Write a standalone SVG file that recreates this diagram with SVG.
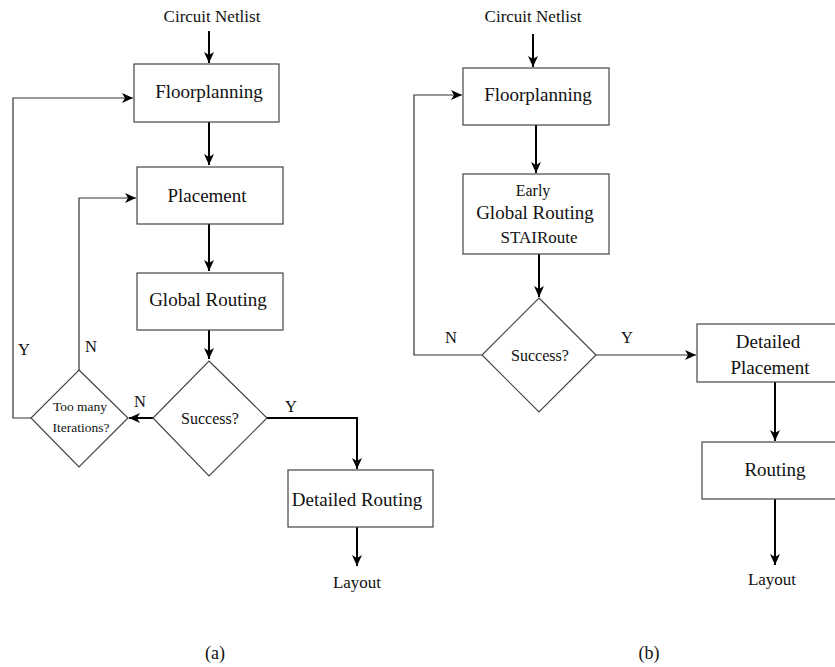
<svg xmlns="http://www.w3.org/2000/svg" width="835" height="667" viewBox="0 0 835 667">
<defs>
<marker id="ah" markerUnits="userSpaceOnUse" markerWidth="12" markerHeight="10" refX="11" refY="5" orient="auto">
<path d="M0,0 L11,5 L0,10 L3,5 z" fill="#000"/>
</marker>
</defs>
<style>
text{font-family:"Liberation Serif","Times New Roman",serif;fill:#111;text-anchor:middle}
.box{fill:#fff;stroke:#444;stroke-width:1.2}
.big{font-size:19px}
.mid{font-size:16px}
.sm{font-size:17px}
.lab{font-size:16.5px}
.xs{font-size:13.5px}
.cap{font-size:18px}
.thick{fill:none;stroke:#000;stroke-width:2}
.thin{fill:none;stroke:#333;stroke-width:1.2}
</style>
<rect width="835" height="667" fill="#fff"/>
<g id="connectors">
<line class="thick" x1="209" y1="31" x2="209" y2="63" marker-end="url(#ah)"/>
<line class="thick" x1="209" y1="122" x2="209" y2="165" marker-end="url(#ah)"/>
<line class="thick" x1="209" y1="224" x2="209" y2="271" marker-end="url(#ah)"/>
<line class="thick" x1="209" y1="330" x2="209" y2="359" marker-end="url(#ah)"/>
<line class="thick" x1="153" y1="418" x2="129" y2="418" marker-end="url(#ah)"/>
<polyline class="thin" points="31,418 13,418 13,98 133,98" marker-end="url(#ah)"/>
<polyline class="thin" points="79,370 79,198 136,198" marker-end="url(#ah)"/>
<polyline class="thick" points="267,418 357,418 357,469" marker-end="url(#ah)"/>
<line class="thick" x1="357" y1="527" x2="357" y2="566" marker-end="url(#ah)"/>
<line class="thick" x1="533" y1="34" x2="533" y2="67" marker-end="url(#ah)"/>
<line class="thick" x1="536" y1="125" x2="536" y2="173" marker-end="url(#ah)"/>
<line class="thick" x1="539" y1="254" x2="539" y2="297" marker-end="url(#ah)"/>
<polyline class="thin" points="482,355 414,355 414,95 462,95" marker-end="url(#ah)"/>
<line class="thin" x1="596" y1="355" x2="696" y2="355" marker-end="url(#ah)"/>
<line class="thick" x1="775" y1="382" x2="775" y2="441" marker-end="url(#ah)"/>
<line class="thick" x1="775" y1="499" x2="775" y2="565" marker-end="url(#ah)"/>
</g>
<g id="labels">
<text class="sm" x="212" y="22">Circuit Netlist</text>
<text class="lab" x="140" y="407">N</text>
<text class="lab" x="24" y="355">Y</text>
<text class="lab" x="91" y="352">N</text>
<text class="lab" x="291" y="412">Y</text>
<text class="sm" x="357" y="588">Layout</text>
<text class="cap" x="215" y="659">(a)</text>
<text class="sm" x="533" y="22">Circuit Netlist</text>
<text class="lab" x="451" y="343">N</text>
<text class="lab" x="627" y="343">Y</text>
<text class="sm" x="772" y="585">Layout</text>
<text class="cap" x="649" y="659">(b)</text>
</g>
<g id="a-floorplanning"><rect class="box" x="134" y="64" width="145" height="58"/><text class="big" x="209" y="98">Floorplanning</text></g>
<g id="a-placement"><rect class="box" x="137" y="167" width="146" height="57"/><text class="big" x="207" y="202">Placement</text></g>
<g id="a-global-routing"><rect class="box" x="137" y="273" width="146" height="57"/><text class="big" x="208" y="306">Global Routing</text></g>
<g id="a-success"><polygon class="box" points="209,361 267,418 209,476 153,418"/><text class="mid" x="210" y="424">Success?</text></g>
<g id="a-too-many"><polygon class="box" points="79,370 128,418 79,467 31,418"/><text class="xs" x="80" y="411">Too many</text><text class="xs" x="81" y="432">Iterations?</text></g>
<g id="a-detailed-routing"><rect class="box" x="288" y="470" width="145" height="57"/><text class="big" x="357" y="506">Detailed Routing</text></g>
<g id="b-floorplanning"><rect class="box" x="463" y="68" width="146" height="57"/><text class="big" x="538" y="101">Floorplanning</text></g>
<g id="b-early-global"><rect class="box" x="463" y="174" width="146" height="80"/><text class="mid" x="533" y="196">Early</text><text class="big" x="535" y="219">Global Routing</text><text class="sm" x="539" y="243">STAIRoute</text></g>
<g id="b-success"><polygon class="box" points="539,298 596,355 539,412 482,355"/><text class="mid" x="540" y="361">Success?</text></g>
<g id="b-detailed-placement"><rect class="box" x="697" y="324" width="150" height="58"/><text class="big" x="768" y="348">Detailed</text><text class="big" x="770" y="374">Placement</text></g>
<g id="b-routing"><rect class="box" x="702" y="442" width="150" height="57"/><text class="big" x="775" y="476">Routing</text></g>
</svg>
